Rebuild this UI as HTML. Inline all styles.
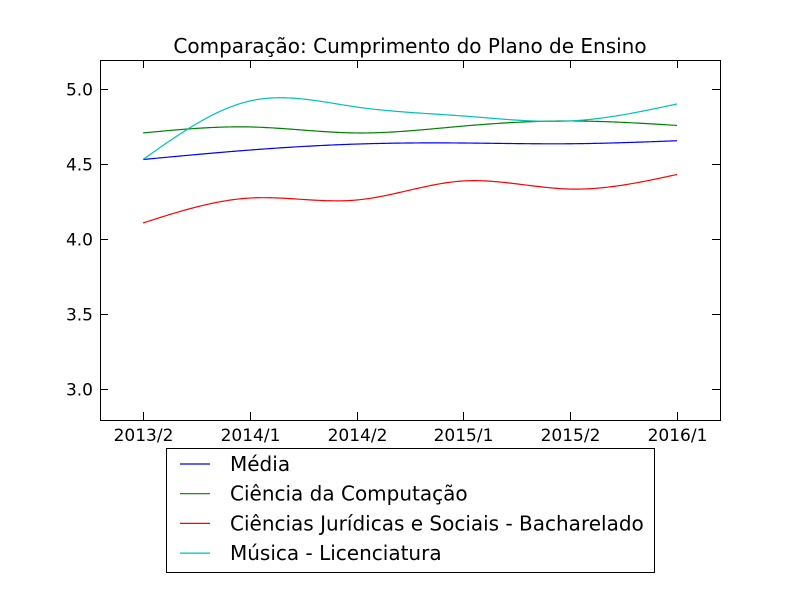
<!DOCTYPE html>
<html><head><meta charset="utf-8"><style>
body{margin:0;background:#fff}
svg text{font-family:"DejaVu Sans","Liberation Sans",sans-serif;fill:#000}
</style></head><body>
<svg width="800" height="600" xmlns="http://www.w3.org/2000/svg">
<rect width="800" height="600" fill="#fff"/>
<text x="410" y="53" text-anchor="middle" font-size="20">Comparação: Cumprimento do Plano de Ensino</text>
<g id="plot"></g>
<rect x="100.5" y="60.5" width="620" height="360" fill="none" stroke="#000"/>
<g id="axes"></g>
<g>
<rect x="166.5" y="448.5" width="488" height="124" fill="#fff" stroke="#000"/>
<g id="legend"></g>
</g>
</svg>
<script>
const categories=["2013/2","2014/1","2014/2","2015/1","2015/2","2016/1"];
const seriesNames=["Média","Ciência da Computação","Ciências Jurídicas e Sociais - Bacharelado","Música - Licenciatura"];
const seriesColors=["#0000ff","#008000","#ff0000","#00bfbf"];
const media=[4.53,4.593,4.633,4.64,4.635,4.655];
const computacao=[4.707,4.747,4.707,4.753,4.787,4.757];
const juridicas=[4.107,4.273,4.26,4.387,4.333,4.43];
const musica=[4.53,4.92,4.88,4.82,4.787,4.9];
const yTicks=[3.0,3.5,4.0,4.5,5.0];
const allSeries=[media,computacao,juridicas,musica];
const NS="http://www.w3.org/2000/svg";
function xs(i){return 143+i*(677-143)/(categories.length-1);}
function ys(v){return 89+(5.0-v)*150;}
function spline(y){
  const n=y.length;
  const M=new Array(n).fill(0),u=new Array(n).fill(0);
  for(let i=1;i<n-1;i++){const p=0.5*M[i-1]+2;M[i]=-0.5/p;u[i]=(3*(y[i+1]-2*y[i]+y[i-1])-0.5*u[i-1])/p;}
  M[n-1]=0;for(let i=n-2;i>=0;i--)M[i]=M[i]*M[i+1]+u[i];
  return t=>{let i=Math.min(Math.floor(t),n-2);const A=i+1-t,B=t-i;
    return A*y[i]+B*y[i+1]+((A*A*A-A)*M[i]+(B*B*B-B)*M[i+1])/6;};
}
const plot=document.getElementById('plot');
allSeries.forEach((s,k)=>{
  const f=spline(s);let d="";
  for(let j=0;j<=250;j++){const t=j/250*(s.length-1);d+=(j?"L":"M")+(143+t*(677-143)/(s.length-1)).toFixed(2)+","+ys(f(t)).toFixed(2);}
  const p=document.createElementNS(NS,'path');
  p.setAttribute('d',d);p.setAttribute('fill','none');p.setAttribute('stroke',seriesColors[k]);p.setAttribute('stroke-width','1.2');
  
  
  plot.appendChild(p);
});
const axes=document.getElementById('axes');
function ln(x1,y1,x2,y2){const l=document.createElementNS(NS,'line');l.setAttribute('x1',x1);l.setAttribute('y1',y1);l.setAttribute('x2',x2);l.setAttribute('y2',y2);l.setAttribute('stroke','#000');axes.appendChild(l);return l;}
function tx(x,y,s,anchor){const t=document.createElementNS(NS,'text');t.setAttribute('x',x);t.setAttribute('y',y);t.setAttribute('text-anchor',anchor);t.setAttribute('font-size','17');t.textContent=s;axes.appendChild(t);return t;}
categories.forEach((c,i)=>{const x=Math.round(xs(i))+0.5;
  ln(x,420,x,412);ln(x,60,x,68);
  const t=tx(x,441,c,'middle');
  
  
});
yTicks.forEach(v=>{const y=Math.round(ys(v))+0.5;
  ln(100,y,108,y);ln(720,y,712,y);
  const t=tx(93,y+6,v.toFixed(1),'end');
  
  
});
const leg=document.getElementById('legend');
seriesNames.forEach((n,k)=>{const y=464+k*29.7;
  const g=document.createElementNS(NS,'g');
  
  
  const l=document.createElementNS(NS,'line');l.setAttribute('x1',180);l.setAttribute('x2',210);l.setAttribute('y1',y);l.setAttribute('y2',y);l.setAttribute('stroke',seriesColors[k]);l.setAttribute('stroke-width','1.2');
  const t=document.createElementNS(NS,'text');t.setAttribute('x',230);t.setAttribute('y',y+7);t.setAttribute('font-size','20');t.textContent=n;
  g.appendChild(l);g.appendChild(t);leg.appendChild(g);
});
</script>
</body></html>
